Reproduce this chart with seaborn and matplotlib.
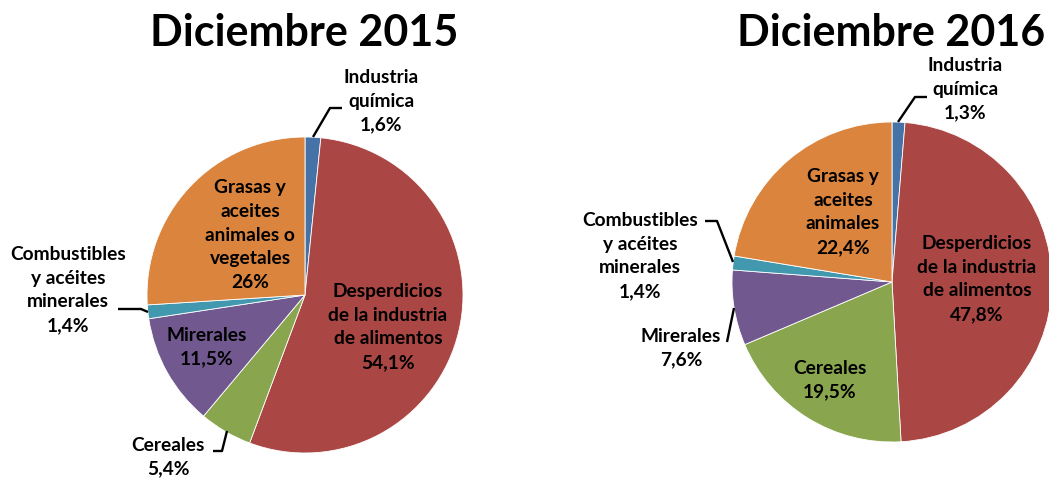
import matplotlib
matplotlib.use("Agg")
import matplotlib.pyplot as plt
import seaborn as sns

# data
categorias = ["Industria\nquímica", "Desperdicios\nde la industria\nde alimentos", "Cereales",
              "Mirerales", "Combustibles\ny acéites\nminerales", "Grasas y\naceites\nanimales o\nvegetales"]
categorias_2016 = ["Industria\nquímica", "Desperdicios\nde la industria\nde alimentos", "Cereales",
                   "Mirerales", "Combustibles\ny acéites\nminerales", "Grasas y\naceites\nanimales"]
valores_2015 = [1.6, 54.1, 5.4, 11.5, 1.4, 26.0]
valores_2016 = [1.3, 47.8, 19.5, 7.6, 1.4, 22.4]
etiquetas_2015 = ["1,6%", "54,1%", "5,4%", "11,5%", "1,4%", "26%"]
etiquetas_2016 = ["1,3%", "47,8%", "19,5%", "7,6%", "1,4%", "22,4%"]
titulos = ["Diciembre 2015", "Diciembre 2016"]

colores = ["#4572A7", "#AA4643", "#89A54E", "#71588F", "#4198AF", "#DB843D"]

sns.set_theme(style="white")
plt.rcParams["font.family"] = ["Lato", "DejaVu Sans"]

W, H = 1049, 478
fig = plt.figure(figsize=(W / 100, H / 100), dpi=100)
ax = fig.add_axes([0, 0, 1, 1])


def py(y):
    # pixel row -> axis y
    return H - y


# layout (pixel coords of the reference)
pies = [
    dict(center=(305, 295), r=158, title=(304, 33),
         labels=[(381, 101), (388, 327), (168, 457), (207, 347), (68, 290), (250, 235)],
         leaders=[[(313, 137), (330, 108), (342, 108)],
                  None,
                  [(213, 451), (222, 451), (227, 431)],
                  None,
                  [(118, 309), (141, 309), (148, 312)],
                  None]),
    dict(center=(892, 282), r=160, title=(891, 33),
         labels=[(965, 89), (977, 279), (830, 380), (681, 348), (640, 256), (843, 212)],
         leaders=[[(898, 122), (915, 97), (927, 97)],
                  None,
                  None,
                  [(727, 342), (734, 308)],
                  [(705, 221), (717, 221), (733, 262)],
                  None]),
]

for p, vals, cats, pct, titulo in zip(pies, [valores_2015, valores_2016],
                                      [categorias, categorias_2016],
                                      [etiquetas_2015, etiquetas_2016], titulos):
    cx, cy = p["center"]
    ax.pie(vals, colors=colores, startangle=90, counterclock=False,
           center=(cx, py(cy)), radius=p["r"],
           wedgeprops=dict(edgecolor="white", linewidth=0.6))
    ax.text(p["title"][0], py(p["title"][1]), titulo, ha="center", va="center",
            fontsize=31, fontweight="bold", color="black")
    for (lx, ly), c, t, lead in zip(p["labels"], cats, pct, p["leaders"]):
        ax.text(lx, py(ly), c + "\n" + t, ha="center", va="center",
                fontsize=13.8, fontweight="bold", color="black", linespacing=1.47)
        if lead is not None:
            ax.plot([q[0] for q in lead], [py(q[1]) for q in lead],
                    color="black", lw=1.7, solid_capstyle="butt")

ax.set_xlim(0, W)
ax.set_ylim(0, H)
ax.set_aspect("equal")
ax.axis("off")

fig.savefig("out.png", dpi=100)
